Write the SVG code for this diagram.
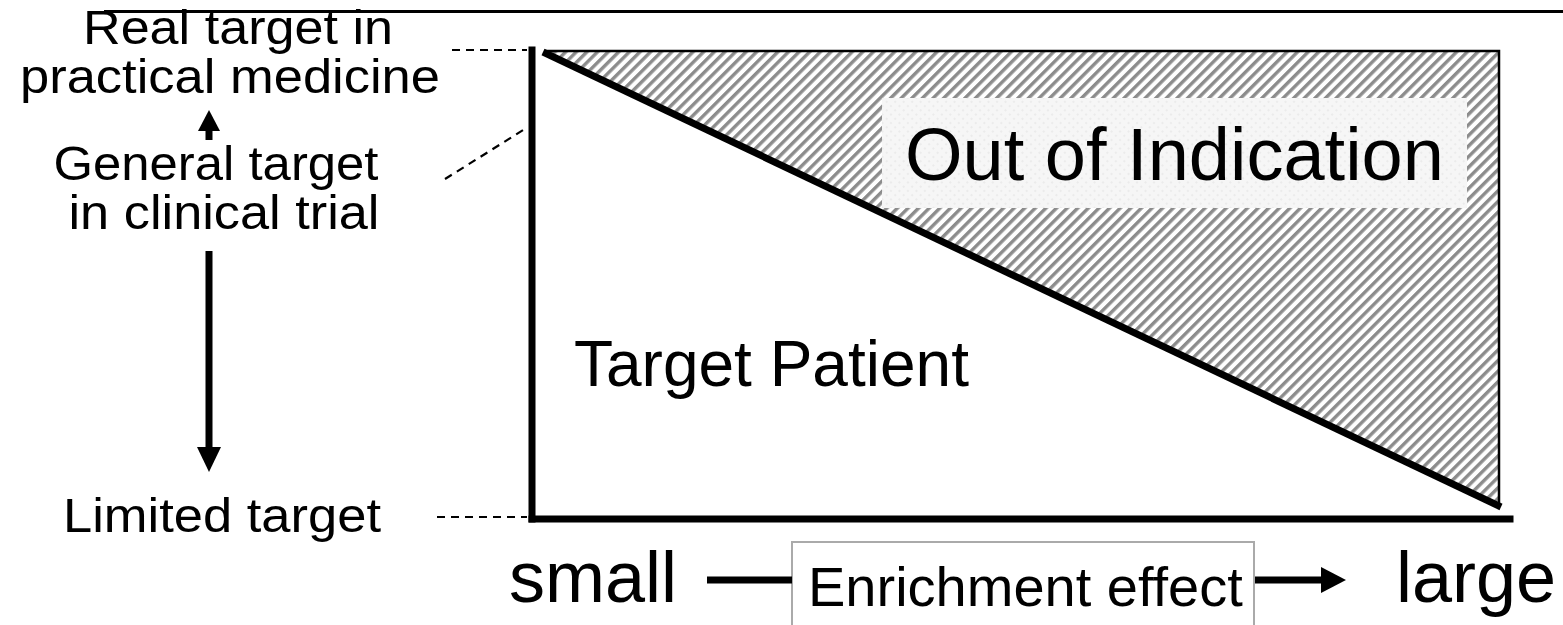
<svg xmlns="http://www.w3.org/2000/svg" width="1563" height="625" viewBox="0 0 1563 625">
  <style>
    .lbl { font-family: "Liberation Sans", Arial, sans-serif; fill: #000; }
    .side { font-size: 49px; text-anchor: middle; }
    .dash { stroke: #000; stroke-width: 2.2; stroke-dasharray: 8 6; fill: none; }
    .axis { stroke: #000; stroke-width: 7; fill: none; stroke-linecap: square; }
    .shaft { stroke: #000; stroke-width: 7; fill: none; }
  </style>
  <defs>
    <!-- diagonal hatching for the excluded region -->
    <pattern id="hatch" patternUnits="userSpaceOnUse" width="7.5" height="7.5" patternTransform="rotate(45)">
      <rect width="7.5" height="7.5" fill="#fff"/>
      <rect width="3.4" height="7.5" fill="#8c8c8c"/>
    </pattern>
    <!-- faint dotted backing behind the region label -->
    <pattern id="dots" patternUnits="userSpaceOnUse" width="6" height="6" patternTransform="rotate(45)">
      <rect width="6" height="6" fill="#f6f6f6"/>
      <circle cx="3" cy="3" r="0.7" fill="#d8d8d8"/>
    </pattern>
  </defs>

  <rect width="1563" height="625" fill="#fff"/>

  <!-- top rule -->
  <line x1="104" y1="11.5" x2="1563" y2="11.5" stroke="#000" stroke-width="3"/>

  <!-- excluded region -->
  <g id="out-of-indication">
    <polygon points="545,51 1499,51 1499,506" fill="url(#hatch)"/>
    <polyline points="545,51 1499,51 1499,506" fill="none" stroke="#000" stroke-width="2.5"/>
    <rect x="882" y="98" width="585" height="110" fill="url(#dots)"/>
    <text class="lbl" x="905" y="180" font-size="74">Out of Indication</text>
  </g>

  <!-- boundary between indicated and excluded patients -->
  <line x1="543" y1="52" x2="1501" y2="507" stroke="#000" stroke-width="7"/>

  <!-- axes -->
  <g id="axes">
    <line class="axis" x1="532" y1="50" x2="532" y2="519"/>
    <line class="axis" x1="532" y1="519" x2="1510" y2="519"/>
  </g>

  <g id="target-patient">
    <text class="lbl" x="574" y="386" font-size="64">Target Patient</text>
  </g>

  <!-- left-hand target levels -->
  <g id="real-target">
    <text class="lbl side" x="238" y="44" textLength="310" lengthAdjust="spacingAndGlyphs">Real target in</text>
    <text class="lbl side" x="230" y="93" textLength="420" lengthAdjust="spacingAndGlyphs">practical medicine</text>
  </g>
  <g id="general-target">
    <text class="lbl side" x="216" y="180" textLength="325" lengthAdjust="spacingAndGlyphs">General target</text>
    <text class="lbl side" x="224" y="229" textLength="311" lengthAdjust="spacingAndGlyphs">in clinical trial</text>
  </g>
  <g id="limited-target">
    <text class="lbl side" x="222" y="532" textLength="318" lengthAdjust="spacingAndGlyphs">Limited target</text>
  </g>

  <!-- enrichment axis label -->
  <g id="enrichment">
    <text class="lbl" x="509" y="602" font-size="72">small</text>
    <text class="lbl" x="1396" y="602" font-size="72">large</text>
    <rect x="792" y="542" width="462" height="100" fill="#fff" stroke="#aaa" stroke-width="2"/>
    <text class="lbl" x="808" y="606" font-size="56">Enrichment effect</text>
  </g>

  <!-- connectors -->
  <g id="connectors">
    <line class="dash" x1="452" y1="50" x2="527" y2="50"/>
    <line class="dash" x1="445" y1="179" x2="528" y2="127"/>
    <line class="dash" x1="437" y1="517" x2="527" y2="517"/>

    <line class="shaft" x1="209" y1="140" x2="209" y2="128"/>
    <polygon points="209,110 198,131 220,131"/>

    <line class="shaft" x1="209" y1="251" x2="209" y2="450"/>
    <polygon points="209,472 197,447 221,447"/>

    <line class="shaft" x1="707" y1="580" x2="792" y2="580"/>
    <line class="shaft" x1="1255" y1="580" x2="1324" y2="580"/>
    <polygon points="1346,580 1321,567 1321,593"/>
  </g>
</svg>
